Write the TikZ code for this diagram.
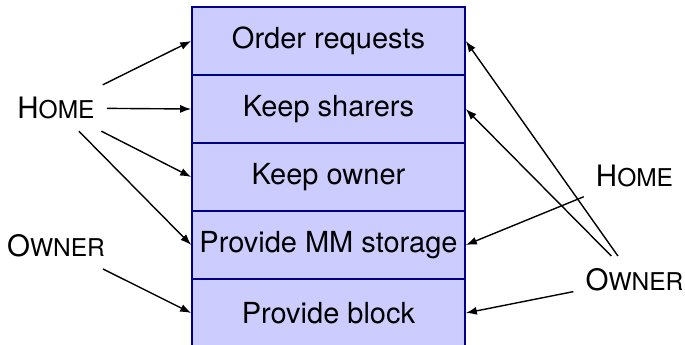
\documentclass[tikz,border=0pt]{standalone}
\usepackage{fontspec}
\setmainfont{TeX Gyre Heros}
\usetikzlibrary{arrows.meta}
\definecolor{cellfill}{HTML}{CCCCFF}
\definecolor{celledge}{HTML}{00008B}
% hand-made small capitals
\newcommand{\smallcapsword}[2]{#1{\fontsize{24.5}{28}\selectfont #2}}
\begin{document}
\begin{tikzpicture}[x=1pt,y=-1pt,
  cell/.style={draw=celledge, line width=1.6pt, fill=cellfill,
    minimum width=273pt, minimum height=68pt, inner sep=0pt,
    font=\fontsize{29}{34}\selectfont},
  role/.style={inner sep=12pt, font=\fontsize{29.5}{34}\selectfont},
  link/.style={-{Latex[length=11pt,width=8pt]}, line width=1.4pt, black}]
\useasboundingbox (0,0) rectangle (685,345);

% stacked responsibilities
\node[cell] (order)   at (328.5,41)  {Order requests};
\node[cell] (sharers) at (328.5,109) {Keep sharers};
\node[cell] (owner)   at (328.5,177) {Keep owner};
\node[cell] (storage) at (328.5,245) {Provide MM storage};
\node[cell] (block)   at (328.5,313) {Provide block};

% roles
\node[role] (homeL)  at (56,108)    {\smallcapsword{H}{OME}};
\node[role] (ownerL) at (56,245.5)  {\smallcapsword{O}{WNER}};
\node[role] (homeR)  at (634.5,176) {\smallcapsword{H}{OME}};
\node[role] (ownerR) at (634.5,279.5) {\smallcapsword{O}{WNER}};

% who does what
\draw[link] (homeL) -- (order.west);
\draw[link] (homeL) -- (sharers.west);
\draw[link] (homeL) -- (owner.west);
\draw[link] (homeL) -- (storage.west);
\draw[link] (ownerL) -- (block.west);

\draw[link] (ownerR) -- (order.east);
\draw[link] (ownerR) -- (sharers.east);
\draw[link] (homeR) -- (storage.east);
\draw[link] (ownerR) -- (block.east);
\end{tikzpicture}
\end{document}
